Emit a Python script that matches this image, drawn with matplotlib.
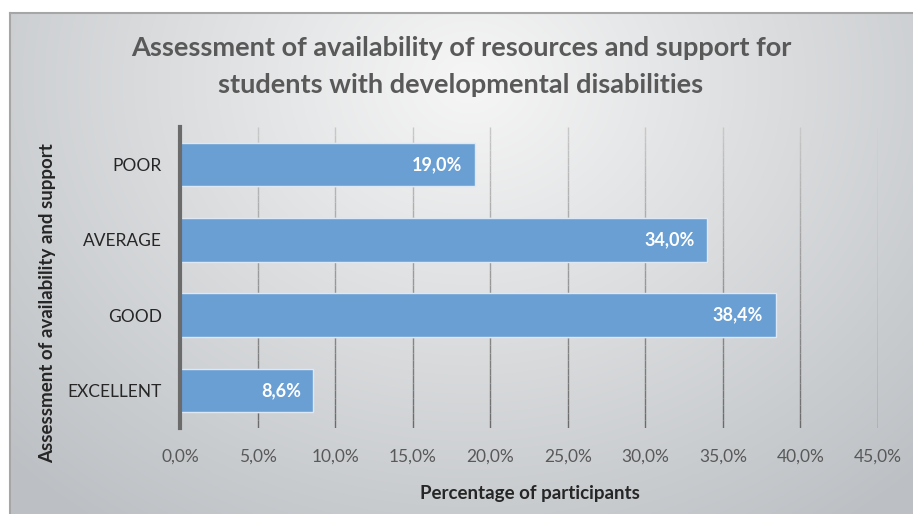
import numpy as np
import matplotlib
matplotlib.use("Agg")
import matplotlib.pyplot as plt
from matplotlib.ticker import FuncFormatter, MultipleLocator
from matplotlib.collections import LineCollection

# data
categories = ["POOR", "AVERAGE", "GOOD", "EXCELLENT"]
percentages = [19.0, 34.0, 38.4, 8.6]
value_labels = ["19,0%", "34,0%", "38,4%", "8,6%"]

title = "Assessment of availability of resources and support for\nstudents with developmental disabilities"
x_label = "Percentage of participants"
y_label = "Assessment of availability and support"

plt.rcParams['font.family'] = ['Lato', 'DejaVu Sans']

W, H = 913, 514
fig = plt.figure(figsize=(W / 100, H / 100), dpi=100)
fig.patch.set_facecolor("white")

# gradient background panel (chart area box)
bg = fig.add_axes([9 / W, 0, (W - 9) / W, (H - 12) / H])
bg.set_axis_off()
yy, xx = np.mgrid[0:H - 12, 0:W - 9]
dist = np.sqrt(((xx - 460) / 640.0) ** 2 + ((yy - 70) / 540.0) ** 2)
dist = np.clip(dist, 0, 1)
light = np.array([0.965, 0.965, 0.965])
dark = np.array([0.74, 0.755, 0.77])
img = light[None, None, :] * (1 - dist[..., None]) + dark[None, None, :] * dist[..., None]
bg.imshow(img, aspect="auto", extent=[0, 1, 0, 1], origin="upper")
bg.set_xlim(0, 1)
bg.set_ylim(0, 1)
# border
fig.add_artist(plt.Line2D([9.5 / W, 9.5 / W], [0, 1 - 12.5 / H], color="#a6a6a6", lw=1.5))
fig.add_artist(plt.Line2D([9.5 / W, 1], [1 - 12.5 / H, 1 - 12.5 / H], color="#a6a6a6", lw=1.5))

ax = fig.add_axes([180 / W, 1 - 428 / H, (878 - 180) / W, (428 - 127) / H])
ax.patch.set_alpha(0)

pos = np.arange(len(categories))
bars = ax.barh(pos, percentages, height=0.58, color="#6a9fd4",
               edgecolor="#dde8f4", linewidth=1.0, zorder=3)
ax.set_yticks(pos)
ax.set_yticklabels(categories)
ax.set_ylim(len(categories) - 0.5, -0.5)
ax.set_xlim(0, 45)
ax.xaxis.set_major_locator(MultipleLocator(5))
ax.xaxis.set_major_formatter(FuncFormatter(lambda v, p: f"{v:.1f}%".replace(".", ",")))

# gridlines that fade towards the top, like the reference
n_seg = 40
edges = np.linspace(len(categories) - 0.5, -0.5, n_seg + 1)
shade = np.linspace(0.42, 0.78, n_seg)
for xv in ax.get_xticks()[1:]:
    if xv > 45:
        continue
    segs = [[(xv, edges[i]), (xv, edges[i + 1])] for i in range(n_seg)]
    ax.add_collection(LineCollection(segs, colors=[(s, s, s) for s in shade],
                                     linewidths=1.0, zorder=1))

for s in ["top", "right", "bottom"]:
    ax.spines[s].set_visible(False)
ax.spines["left"].set_color("#6b6b6b")
ax.spines["left"].set_linewidth(3)
ax.spines["left"].set_zorder(4)
ax.tick_params(axis="both", length=0)
ax.tick_params(axis="x", labelsize=12.5, labelcolor="#595959", pad=15)
ax.tick_params(axis="y", labelsize=12.5, labelcolor="#262626", pad=13)

for b, lab in zip(bars, value_labels):
    ax.text(b.get_width() - 0.8, b.get_y() + b.get_height() / 2, lab,
            ha="right", va="center", color="white", fontsize=13,
            fontweight="bold", zorder=5)

fig.text(0.5 + 9 / W / 2, 1 - 66.5 / H, title, ha="center", va="center",
         fontsize=19.5, fontweight="bold", color="#595959", linespacing=1.65)
fig.text(530 / W, 1 - 493 / H, x_label, ha="center", va="center",
         fontsize=13.5, fontweight="bold", color="#262626")
fig.text(48 / W, 1 - 303 / H, y_label, ha="center", va="center", rotation=90,
         fontsize=13.5, fontweight="bold", color="#262626")

fig.savefig("out.png", dpi=100)
